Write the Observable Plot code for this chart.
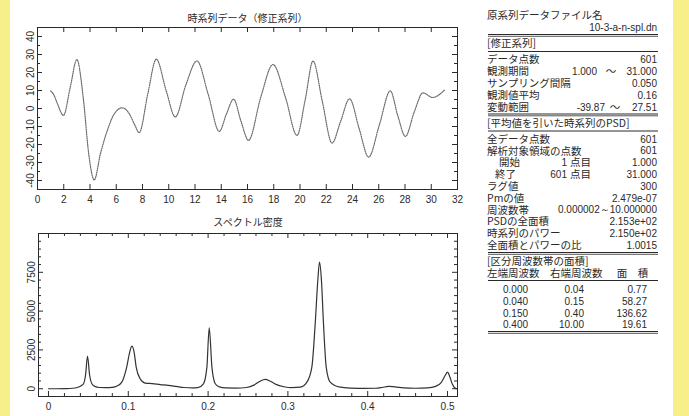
<!DOCTYPE html>
<html><head><meta charset="utf-8">
<script src="https://cdn.jsdelivr.net/npm/d3@7"></script>
<script src="https://cdn.jsdelivr.net/npm/@observablehq/plot@0.6"></script>
<style>
html,body{margin:0;padding:0;}
body{width:689px;height:416px;background:#f6ef8a;position:relative;overflow:hidden;}
#panel{position:absolute;left:10px;top:0;width:663px;height:416px;background:#fff;}
.abs{position:absolute;}
</style></head><body>
<div id="panel"></div>
<div id="top" class="abs" style="left:0;top:0"></div>
<div id="bot" class="abs" style="left:0;top:205px"></div>
<div id="info" class="abs" style="left:470px;top:0"></div>
<script>
// ---------- data ----------
const topTitle = "時系列データ（修正系列）";
const botTitle = "スペクトル密度";

// time series: time, value
const tsT = [1.00,1.25,1.50,1.98,2.50,3.00,3.50,3.90,4.32,4.80,5.41,5.79,6.45,7.00,7.40,7.75,8.40,9.05,9.80,10.50,11.30,12.15,13.00,13.85,14.40,14.94,15.50,16.08,17.00,17.94,18.90,19.77,20.40,20.99,21.70,22.44,23.10,23.78,24.50,25.23,26.05,26.88,27.45,28.03,28.70,29.37,30.10,31.00];
const tsV = [9.8,7.5,3.0,-3.8,12.0,27.2,5.0,-25.0,-39.7,-25.0,-10.3,-3.7,0.4,-3.0,-9.0,-13.4,8.0,27.4,10.0,-4.7,13.0,26.4,8.0,-12.7,-3.0,5.2,-7.0,-17.7,6.0,24.4,6.0,-14.9,5.0,26.4,4.0,-19.2,-7.0,5.4,-11.0,-27.0,-9.0,9.8,-4.0,-15.5,-2.0,8.7,6.1,10.2];

// spectral density: frequency, power
const specF = [0,0.01,0.02,0.03,0.036,0.041,0.0439,0.0465,0.0489,0.0515,0.0544,0.058,0.064,0.072,0.08,0.086,0.0919,0.098,0.1015,0.1045,0.1075,0.1099,0.1149,0.1212,0.13,0.14,0.15,0.16,0.17,0.18,0.187,0.1942,0.1985,0.2014,0.2048,0.209,0.214,0.222,0.235,0.248,0.258,0.265,0.2716,0.278,0.285,0.295,0.305,0.3155,0.3238,0.33,0.3342,0.3375,0.3396,0.342,0.3446,0.348,0.353,0.3655,0.38,0.395,0.41,0.418,0.426,0.434,0.445,0.46,0.475,0.485,0.492,0.497,0.5,0.503,0.506,0.509,0.5115];
const specP = [0,0,10,30,80,200,320,900,2100,900,320,150,80,70,90,180,425,1390,2300,2750,2300,1390,640,360,330,270,220,150,80,50,70,320,1390,3920,1390,320,120,50,40,80,250,480,600,480,280,130,70,100,425,1390,4180,7000,8150,7000,4180,1390,425,100,40,20,30,80,150,120,60,30,50,150,400,850,1070,750,300,60,0];

// ticks
const topXTicks = [0,2,4,6,8,10,12,14,16,18,20,22,24,26,28,30,32];
const topYTicks = [-40,-30,-20,-10,0,10,20,30,40];
const topYMinor = [-45,-35,-25,-15,-5,5,15,25,35,45];
const botXTicks = [0,0.1,0.2,0.3,0.4,0.5];
const botXLabels = ["0","0.1","0.2","0.3","0.4","0.5"];
const botXMinor = [0.02,0.04,0.06,0.08,0.12,0.14,0.16,0.18,0.22,0.24,0.26,0.28,0.32,0.34,0.36,0.38,0.42,0.44,0.46,0.48];
const botYTicks = [0,2500,5000,7500,10000];
const botYLabels = ["0","2500","5000","7500",""];
const botYMinor = [-500,500,1000,1500,2000,3000,3500,4000,4500,5500,6000,6500,7000,8000,8500,9000,9500];

// info panel text
const fileLabel = "原系列データファイル名";
const fileName = "10-3-a-n-spl.dn";
const corrHeader = "[修正系列]";
const corrLabels = ["データ点数","観測期間","サンプリング間隔","観測値平均","変動範囲"];
const corrFrom = ["","1.000","","","-39.87"];
const corrValues = ["601","31.000","0.050","0.16","27.51"];
const psdHeader = "[平均値を引いた時系列のPSD]";
const psdLabels = ["全データ点数","解析対象領域の点数","開始","終了","ラグ値","Pmの値","周波数帯","PSDの全面積","時系列のパワー","全面積とパワーの比"];
const psdMidNum = ["","","1","601","","","","","",""];
const psdValues = ["601","601","1.000","31.000","300","2.479e-07","0.000002～10.000000","2.153e+02","2.150e+02","1.0015"];
const bandHeader = "[区分周波数帯の面積]";
const bandCols = ["左端周波数","右端周波数","面","積"];
const bandLeft = ["0.000","0.040","0.150","0.400"];
const bandRight = ["0.04","0.15","0.40","10.00"];
const bandArea = ["0.77","58.27","136.62","19.61"];

// ---------- styles ----------
const numFont = "'Liberation Sans',Arial,'DejaVu Sans',sans-serif";
const jpFont = "'Noto Sans CJK JP','Noto Sans CJK SC',sans-serif";
const ink = "#2a2a2a";

function boxTicks(xs, ys, pw, ph, len) {
  return [
    Plot.ruleX(xs, {x: d => d, insetTop: ph - len, stroke: ink}),
    Plot.ruleX(xs, {x: d => d, insetBottom: ph - len, stroke: ink}),
    Plot.ruleY(ys, {y: d => d, insetRight: pw - len, stroke: ink}),
    Plot.ruleY(ys, {y: d => d, insetLeft: pw - len, stroke: ink})
  ];
}

// ---------- top plot ----------
{
  const W = 470, H = 210, mL = 37, mR = 13, mT = 27, mB = 21;
  const pw = W - mL - mR, ph = H - mT - mB;
  const data = tsT.map((t, i) => ({t, v: tsV[i]}));
  const p = Plot.plot({
    width: W, height: H, marginLeft: mL, marginRight: mR, marginTop: mT, marginBottom: mB,
    style: {background: "transparent", fontFamily: numFont, fontSize: "10px", color: ink},
    x: {domain: [0, 32], axis: null},
    y: {domain: [-45, 45], axis: null},
    marks: [
      Plot.line(data, {x: "t", y: "v", curve: "monotone-x", stroke: "#6a6a6a", strokeWidth: 1.2, strokeDasharray: "1,1.2"}),
      ...boxTicks(topXTicks, topYTicks, pw, ph, 5),
      ...boxTicks([], topYMinor, pw, ph, 3),
      Plot.frame({stroke: ink, strokeWidth: 1}),
      Plot.text(topXTicks, {x: d => d, text: d => String(d), frameAnchor: "bottom", lineAnchor: "top", dy: 6, fontFamily: numFont, fontSize: 10, fill: ink}),
      Plot.text(topYTicks, {y: d => d, text: d => String(d), frameAnchor: "left", rotate: -90, textAnchor: "middle", lineAnchor: "bottom", dx: -4, fontFamily: numFont, fontSize: 10, fill: ink}),
      Plot.text([topTitle], {text: d => d, frameAnchor: "top", lineAnchor: "middle", dy: -9, fontFamily: jpFont, fontSize: 10, fill: ink})
    ]
  });
  document.getElementById("top").appendChild(p);
}

// ---------- bottom plot ----------
{
  const W = 470, H = 211, mL = 38, mR = 13, mT = 28, mB = 20;
  const pw = W - mL - mR, ph = H - mT - mB;
  const data = specF.map((f, i) => ({f, p: specP[i]}));
  const p = Plot.plot({
    width: W, height: H, marginLeft: mL, marginRight: mR, marginTop: mT, marginBottom: mB,
    style: {background: "transparent", fontFamily: numFont, fontSize: "10px", color: ink},
    x: {domain: [-0.0125, 0.5125], axis: null},
    y: {domain: [-500, 10000], axis: null},
    marks: [
      Plot.line(data, {x: "f", y: "p", curve: "monotone-x", stroke: "#333", strokeWidth: 1.2}),
      ...boxTicks(botXTicks, botYTicks, pw, ph, 5),
      ...boxTicks(botXMinor, botYMinor, pw, ph, 3),
      Plot.frame({stroke: ink, strokeWidth: 1}),
      Plot.text(botXTicks, {x: d => d, text: (d, i) => botXLabels[i], frameAnchor: "bottom", lineAnchor: "top", dy: 6, fontFamily: numFont, fontSize: 10, fill: ink}),
      Plot.text(botYTicks, {y: d => d, text: (d, i) => botYLabels[i], frameAnchor: "left", rotate: -90, textAnchor: "middle", lineAnchor: "bottom", dx: -4, fontFamily: numFont, fontSize: 10, fill: ink}),
      Plot.text([botTitle], {text: d => d, frameAnchor: "top", lineAnchor: "middle", dy: -11, fontFamily: jpFont, fontSize: 10, fill: ink})
    ]
  });
  document.getElementById("bot").appendChild(p);
}

// ---------- info panel ----------
{
  const svg = d3.select("#info").append("svg").attr("width", 219).attr("height", 416).attr("fill", ink);
  const L = 17, R = 187, RL = 18, RR = 188;
  const JP = 10.5, NUM = 10;
  const S = 11.8; // line pitch
  const txt = (x, y, s, anchor = "start", font = jpFont, size = JP) =>
    svg.append("text").attr("x", x).attr("y", y).attr("dy", "0.36em").attr("text-anchor", anchor)
      .style("font-family", font).style("font-size", size + "px").text(s);
  const rule = (y, dbl) => {
    svg.append("line").attr("x1", RL).attr("x2", RR).attr("y1", y).attr("y2", y).attr("stroke", ink).attr("stroke-width", 1);
    if (dbl) svg.append("line").attr("x1", RL).attr("x2", RR).attr("y1", y + 1.8).attr("y2", y + 1.8).attr("stroke", "#555").attr("stroke-width", 1);
  };
  txt(L, 15.7, fileLabel);
  txt(R, 27.5, fileName, "end", numFont, NUM);
  rule(34.5, true);
  txt(L, 43.6, corrHeader);
  rule(51.5, false);
  corrLabels.forEach((s, i) => {
    const y = 59.7 + i * S;
    txt(L, y, s);
    if (corrFrom[i]) {
      txt(i === 1 ? 127 : 135, y, corrFrom[i], "end", numFont, NUM);
      txt(i === 1 ? 141 : 145, y, "～", "middle", jpFont, JP);
    }
    txt(R, y, corrValues[i], "end", numFont, NUM);
  });
  rule(114, true);
  txt(L, 123, psdHeader);
  rule(131, false);
  psdLabels.forEach((s, i) => {
    const y = 139 + i * S;
    const x = i === 2 ? 29 : i === 3 ? 25 : L;
    txt(x, y, s);
    if (psdMidNum[i]) {
      txt(97, y, psdMidNum[i], "end", numFont, NUM);
      txt(100, y, "点目", "start", jpFont, JP);
    }
    txt(R, y, psdValues[i], "end", numFont, NUM);
  });
  rule(252.5, true);
  txt(L, 261.4, bandHeader);
  txt(L, 273.2, bandCols[0]);
  txt(80, 273.2, bandCols[1]);
  txt(152, 273.2, bandCols[2], "middle");
  txt(173, 273.2, bandCols[3], "middle");
  rule(280.5, false);
  bandLeft.forEach((s, i) => {
    const y = 289.3 + i * S;
    txt(33, y, s, "start", numFont, NUM);
    txt(114, y, bandRight[i], "end", numFont, NUM);
    txt(177, y, bandArea[i], "end", numFont, NUM);
  });
  rule(331.5, true);
}
</script>
</body></html>
